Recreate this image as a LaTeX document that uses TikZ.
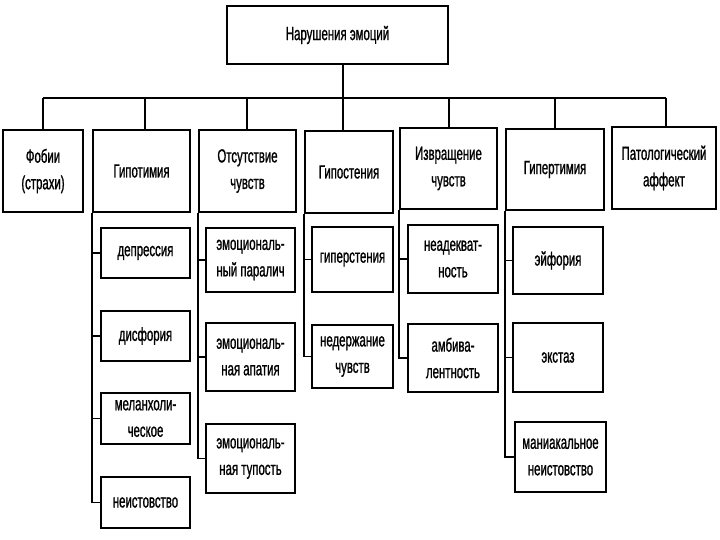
\documentclass[tikz,border=0pt]{standalone}
\usepackage{fontspec}
\setmainfont[FakeStretch=0.6,FakeBold=1]{Liberation Sans}
\begin{document}
\begin{tikzpicture}[x=1pt,y=-1pt,
  box/.style={draw=black,line width=1.6pt,inner sep=0pt,align=center,
    font=\fontsize{19}{26.5}\selectfont},
  conn/.style={draw=black,line width=1.6pt}]
\fill[white] (0,0) rectangle (720,540);
\useasboundingbox (0,0) rectangle (720,540);
% top row
\node[box,minimum width=221,minimum height=58] (top) at (337.5,35) {Нарушения эмоций};
\node[box,minimum width=80,minimum height=82] (fob) at (43,171) {Фобии\\(страхи)};
\node[box,minimum width=97,minimum height=82] (gipot) at (141.5,171) {Гипотимия};
\node[box,minimum width=97,minimum height=82] (ots) at (247.5,171) {Отсутствие\\чувств};
\node[box,minimum width=88,minimum height=82] (gipost) at (349,172) {Гипостения};
\node[box,minimum width=97,minimum height=81] (izv) at (448.5,168.5) {Извращение\\чувств};
\node[box,minimum width=98,minimum height=81] (giper) at (555,169.5) {Гипертимия};
\node[box,minimum width=104,minimum height=82] (pat) at (664,168) {Патологический\\аффект};
% sub boxes
\node[box,minimum width=89,minimum height=50] (depr) at (145.5,253) {депрессия};
\node[box,minimum width=89,minimum height=50] (disf) at (145.5,336) {дисфория};
\node[box,minimum width=89,minimum height=51] (melan) at (145.5,418.5) {меланхоли-\\ческое};
\node[box,minimum width=89,minimum height=51] (neist) at (145.5,502.5) {неистовство};
\node[box,minimum width=89,minimum height=64] (par) at (250.5,260) {эмоциональ-\\ный паралич};
\node[box,minimum width=89,minimum height=68] (apat) at (250.5,357) {эмоциональ-\\ная апатия};
\node[box,minimum width=89,minimum height=69] (tup) at (250.5,458.5) {эмоциональ-\\ная тупость};
\node[box,minimum width=81,minimum height=65] (hyperst) at (352.5,259.5) {гиперстения};
\node[box,minimum width=81,minimum height=63] (nederzh) at (352.5,356.5) {недержание\\чувств};
\node[box,minimum width=90,minimum height=68] (neadek) at (453,259) {неадекват-\\ность};
\node[box,minimum width=90,minimum height=68] (ambiv) at (453,358) {амбива-\\лентность};
\node[box,minimum width=90,minimum height=67] (eif) at (558,260.5) {эйфория};
\node[box,minimum width=90,minimum height=69] (ekst) at (558,357.5) {экстаз};
\node[box,minimum width=91,minimum height=70] (mani) at (560.5,457) {маниакальное\\неистовство};
% bus
\coordinate (b1) at (43,98);
\coordinate (b2) at (145,98);
\coordinate (b3) at (247,98);
\coordinate (b4) at (343,98);
\coordinate (b5) at (449,98);
\coordinate (b6) at (555,98);
\coordinate (b7) at (666,98);
\draw[conn] (b1) -- (b7);
\draw[conn] (top.south -| b4) -- (b4) -- (b4 |- gipost.north);
\draw[conn] (b1) -- (b1 |- fob.north);
\draw[conn] (b2) -- (b2 |- gipot.north);
\draw[conn] (b3) -- (b3 |- ots.north);
\draw[conn] (b5) -- (b5 |- izv.north);
\draw[conn] (b6) -- (b6 |- giper.north);
\draw[conn] (b7) -- (b7 |- pat.north);
% spines
\foreach \c in {depr,disf,melan,neist} \draw[conn] (gipot.south west) |- (\c.west);
\foreach \c in {par,apat,tup} \draw[conn] (ots.south west) |- (\c.west);
\foreach \c in {hyperst,nederzh} \draw[conn] (gipost.south west) |- (\c.west);
\foreach \c in {neadek,ambiv} \draw[conn] (izv.south west) |- (\c.west);
\foreach \c in {eif,ekst,mani} \draw[conn] (giper.south west) |- (\c.west);
\end{tikzpicture}
\end{document}
